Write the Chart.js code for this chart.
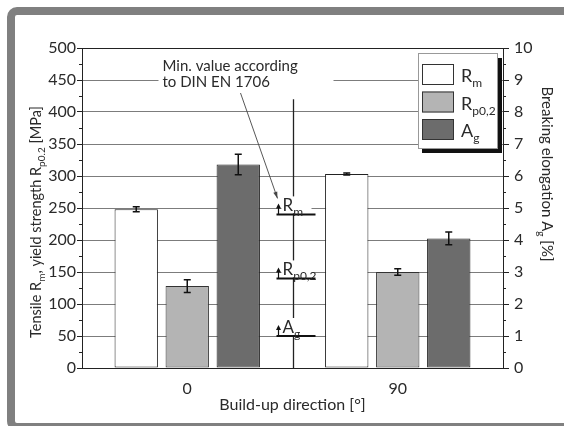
<!DOCTYPE html>
<html>
<head>
<meta charset="utf-8">
<script src="https://cdn.jsdelivr.net/npm/chart.js@4.4.1/dist/chart.umd.min.js"></script>
<style>
  body { margin: 0; background: #fff; }
  #wrap { width: 564px; height: 426px; }
</style>
</head>
<body>
<div id="wrap"><canvas id="chart" width="564" height="426"></canvas></div>
<script>
// values
const categories = ['0', '90'];
const rmValues = [248, 303];      // MPa
const rmErrors = [4, 1.5];
const rpValues = [128, 150];      // MPa
const rpErrors = [10, 5];
const agValues = [6.36, 4.05];    // %
const agErrors = [0.32, 0.2];
// DIN EN 1706 minimum values: Rm, Rp0.2 (MPa), Ag (%)
const minRm = 240;
const minRp = 140;
const minAg = 1;
const dividerTop = 420;           // MPa, top of the middle divider line

const FONT = 'Lato, "DejaVu Sans", sans-serif';
const TEXT = '#2a2a2a';

// draws text made of [text, isSub] pieces
function drawRich(ctx, parts, x, y, size, align) {
    const subSize = Math.round(size * 0.68);
    let w = 0;
    parts.forEach(([t, sub]) => {
        ctx.font = (sub ? subSize : size) + 'px ' + FONT;
        w += ctx.measureText(t).width;
    });
    let cx = align === 'center' ? x - w / 2 : x;
    ctx.textAlign = 'left';
    ctx.textBaseline = 'alphabetic';
    parts.forEach(([t, sub]) => {
        ctx.font = (sub ? subSize : size) + 'px ' + FONT;
        ctx.fillText(t, cx, sub ? y + size * 0.28 : y);
        cx += ctx.measureText(t).width;
    });
}

const decor = {
    id: 'decor',
    beforeDraw(chart) {
        const ctx = chart.ctx;
        ctx.save();
        ctx.fillStyle = '#fff';
        ctx.fillRect(0, 0, chart.width, chart.height);
        // grey outer frame
        ctx.strokeStyle = '#808080';
        ctx.lineWidth = 8;
        ctx.beginPath();
        ctx.roundRect(11, 11, 620, 416, 6);
        ctx.stroke();
        ctx.restore();
    },
    afterDatasetsDraw(chart) {
        const ctx = chart.ctx;
        const area = chart.chartArea;
        const errs = [rmErrors, rpErrors, agErrors];
        ctx.save();
        // error bars
        chart.data.datasets.forEach((ds, i) => {
            const meta = chart.getDatasetMeta(i);
            const sc = chart.scales[ds.yAxisID];
            meta.data.forEach((bar, j) => {
                const v = ds.data[j], e = errs[i][j];
                const y1 = sc.getPixelForValue(v + e);
                const y2 = sc.getPixelForValue(v - e);
                ctx.strokeStyle = '#111';
                ctx.lineWidth = 1.5;
                ctx.beginPath();
                ctx.moveTo(bar.x, y1); ctx.lineTo(bar.x, y2);
                ctx.moveTo(bar.x - 3.5, y1); ctx.lineTo(bar.x + 3.5, y1);
                ctx.moveTo(bar.x - 3.5, y2); ctx.lineTo(bar.x + 3.5, y2);
                ctx.stroke();
            });
        });

        // plot frame (top edge)
        ctx.strokeStyle = '#222';
        ctx.lineWidth = 1;
        ctx.beginPath();
        ctx.moveTo(area.left, area.top + 0.5);
        ctx.lineTo(area.right, area.top + 0.5);
        ctx.stroke();

        const x = chart.scales.x;
        const y = chart.scales.y;
        const y2 = chart.scales.y2;
        const xm = Math.round((x.getPixelForValue(0) + x.getPixelForValue(1)) / 2) + 0.5;

        // middle divider
        ctx.strokeStyle = '#222';
        ctx.lineWidth = 1.3;
        ctx.beginPath();
        ctx.moveTo(xm, y.getPixelForValue(dividerTop));
        ctx.lineTo(xm, area.bottom);
        ctx.stroke();

        // note box
        ctx.fillStyle = '#fff';
        ctx.fillRect(xm - 135, 56, 175, 34);
        ctx.fillStyle = TEXT;
        ctx.font = '15px ' + FONT;
        ctx.textAlign = 'left';
        ctx.textBaseline = 'alphabetic';
        ctx.fillText('Min. value according', xm - 131, 71);
        ctx.fillText('to DIN EN 1706', xm - 131, 87);

        // min value markers
        const marks = [
            [y.getPixelForValue(minRm), [['R', false], ['m', true]]],
            [y.getPixelForValue(minRp), [['R', false], ['p0,2', true]]],
            [y2.getPixelForValue(minAg), [['A', false], ['g', true]]]
        ];
        marks.forEach(([py, label]) => {
            ctx.fillStyle = '#fff';
            ctx.fillRect(xm - 12, py - 18, 30, 17);
            ctx.strokeStyle = '#111';
            ctx.lineWidth = 2;
            ctx.beginPath();
            ctx.moveTo(xm - 17, py); ctx.lineTo(xm + 22, py);
            ctx.stroke();
            // small up arrow
            ctx.lineWidth = 1.2;
            ctx.beginPath();
            ctx.moveTo(xm - 15, py); ctx.lineTo(xm - 15, py - 9);
            ctx.stroke();
            ctx.fillStyle = '#111';
            ctx.beginPath();
            ctx.moveTo(xm - 15, py - 11);
            ctx.lineTo(xm - 17.5, py - 6);
            ctx.lineTo(xm - 12.5, py - 6);
            ctx.closePath();
            ctx.fill();
            ctx.fillStyle = TEXT;
            drawRich(ctx, label, xm - 11, py - 3, 17, 'left');
        });

        // pointer from note to Rm marker
        const pyRm = y.getPixelForValue(minRm);
        ctx.strokeStyle = '#444';
        ctx.lineWidth = 0.9;
        ctx.beginPath();
        ctx.moveTo(xm - 53, 93);
        ctx.lineTo(xm - 16, pyRm - 16);
        ctx.stroke();
        ctx.fillStyle = '#444';
        ctx.beginPath();
        const ang = Math.atan2(pyRm - 16 - 93, 37);
        const tx = xm - 16, ty = pyRm - 16;
        ctx.moveTo(tx, ty);
        ctx.lineTo(tx - 7 * Math.cos(ang - 0.3), ty - 7 * Math.sin(ang - 0.3));
        ctx.lineTo(tx - 7 * Math.cos(ang + 0.3), ty - 7 * Math.sin(ang + 0.3));
        ctx.closePath();
        ctx.fill();

        // legend with shadow
        const lx = 418, ly = 53, lw = 80, lh = 96;
        ctx.fillStyle = '#111';
        ctx.fillRect(lx + 4, ly + lh, lw, 4);
        ctx.fillRect(lx + lw, ly + 5, 4, lh - 1);
        ctx.fillStyle = '#fff';
        ctx.fillRect(lx, ly, lw, lh);
        ctx.strokeStyle = '#999';
        ctx.lineWidth = 1;
        ctx.strokeRect(lx + 0.5, ly + 0.5, lw - 1, lh - 1);
        const legendLabels = [
            [['R', false], ['m', true]],
            [['R', false], ['p0,2', true]],
            [['A', false], ['g', true]]
        ];
        chart.data.datasets.forEach((ds, i) => {
            const sy = ly + 11 + i * 27.5;
            ctx.fillStyle = ds.backgroundColor;
            ctx.fillRect(lx + 4, sy, 32, 21);
            ctx.strokeStyle = '#333';
            ctx.strokeRect(lx + 4.5, sy + 0.5, 31, 20);
            ctx.fillStyle = TEXT;
            drawRich(ctx, legendLabels[i], lx + 43, sy + 18, 18, 'left');
        });
        ctx.restore();
    },
    afterDraw(chart) {
        const ctx = chart.ctx;
        const area = chart.chartArea;
        const y = chart.scales.y;
        const y2 = chart.scales.y2;
        ctx.save();
        // minor ticks
        ctx.strokeStyle = '#222';
        ctx.lineWidth = 1;
        ctx.beginPath();
        for (let v = 25; v < 500; v += 50) {
            const py = Math.round(y.getPixelForValue(v)) + 0.5;
            ctx.moveTo(area.left - 3, py); ctx.lineTo(area.left, py);
        }
        for (let v = 0.5; v < 10; v += 1) {
            const py = Math.round(y2.getPixelForValue(v)) + 0.5;
            ctx.moveTo(area.right, py); ctx.lineTo(area.right + 3, py);
        }
        ctx.stroke();

        // axis titles
        ctx.fillStyle = TEXT;
        ctx.save();
        ctx.translate(41, 222);
        ctx.rotate(-Math.PI / 2);
        drawRich(ctx, [['Tensile R', false], ['m', true], [', yield strength R', false], ['p0.2', true], [' [MPa]', false]], 0, 0, 14.5, 'center');
        ctx.restore();
        ctx.save();
        ctx.translate(542, 174);
        ctx.rotate(Math.PI / 2);
        drawRich(ctx, [['Breaking elongation A', false], ['g', true], [' [%]', false]], 0, 0, 15, 'center');
        ctx.restore();
        ctx.font = '16px ' + FONT;
        ctx.textAlign = 'center';
        ctx.textBaseline = 'middle';
        ctx.fillText('Build-up direction [°]', (area.left + area.right) / 2, 405);
        ctx.restore();
    }
};

new Chart(document.getElementById('chart'), {
    type: 'bar',
    data: {
        labels: categories,
        datasets: [
            { label: 'Rm', data: rmValues, yAxisID: 'y', backgroundColor: '#ffffff', borderColor: '#222', borderWidth: 1 },
            { label: 'Rp0,2', data: rpValues, yAxisID: 'y', backgroundColor: '#b4b4b4', borderColor: '#333', borderWidth: 1 },
            { label: 'Ag', data: agValues, yAxisID: 'y2', backgroundColor: '#6c6c6c', borderColor: '#222', borderWidth: 1 }
        ]
    },
    options: {
        responsive: false,
        animation: false,
        devicePixelRatio: 1,
        layout: { padding: { top: 48, left: 0, right: 0, bottom: 0 } },
        datasets: { bar: { categoryPercentage: 0.727, barPercentage: 0.85, borderSkipped: false } },
        plugins: { legend: { display: false }, tooltip: { enabled: false } },
        scales: {
            x: {
                grid: { display: false },
                border: { display: true, color: '#222', width: 1 },
                ticks: { color: TEXT, font: { family: FONT, size: 16 }, padding: 3 },
                afterFit(s) { s.height = 58; }
            },
            y: {
                position: 'left',
                min: 0, max: 500,
                ticks: { stepSize: 50, color: TEXT, font: { family: FONT, size: 16 }, padding: 1 },
                grid: { color: '#7c7c7c', tickColor: '#222', tickLength: 5, lineWidth: 1 },
                border: { display: true, color: '#222', width: 1 },
                afterFit(s) { s.width = 82; }
            },
            y2: {
                position: 'right',
                min: 0, max: 10,
                ticks: { stepSize: 1, color: TEXT, font: { family: FONT, size: 16 }, padding: 5 },
                grid: { drawOnChartArea: false, tickColor: '#222', tickLength: 6 },
                border: { display: true, color: '#222', width: 1 },
                afterFit(s) { s.width = 61; }
            }
        }
    },
    plugins: [decor]
});
</script>
</body>
</html>
